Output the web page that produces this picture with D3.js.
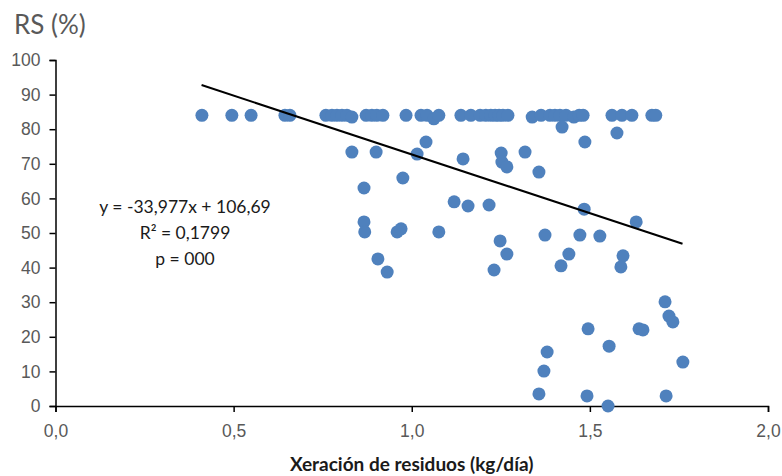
<!DOCTYPE html>
<html>
<head>
<meta charset="utf-8">
<script src="https://cdn.jsdelivr.net/npm/d3@7"></script>
<style>
  body { margin: 0; background: #fff; }
  svg { display: block; font-family: Lato, "Open Sans", sans-serif; }
</style>
</head>
<body>
<script>
// waste generation (kg/day) vs RS (%)
var xs = [0.411, 0.495, 0.549, 0.644, 0.658, 0.759, 0.776, 0.790, 0.804, 0.818, 0.832, 0.872, 0.888, 0.902, 0.919,
          0.984, 1.026, 1.043, 1.062, 1.076, 1.138, 1.166, 1.192, 1.208, 1.222, 1.234, 1.245, 1.256, 1.270,
          1.338, 1.363, 1.388, 1.402, 1.416, 1.433, 1.455, 1.470, 1.481, 1.562, 1.590, 1.618, 1.674, 1.685,
          0.832, 0.900, 1.015, 1.040, 1.144, 1.251, 1.253, 1.267, 1.318, 1.357, 1.486, 1.422, 1.576,
          0.866, 0.975, 1.119, 1.158, 1.217, 1.484, 0.866, 0.868, 0.959, 0.970, 1.076, 1.374, 1.472, 1.528, 1.630,
          1.248, 1.267, 1.441, 1.593, 1.587, 1.419, 1.231, 0.905, 0.931,
          1.711, 1.722, 1.733, 1.495, 1.638, 1.649, 1.554, 1.380, 1.371, 1.761, 1.357, 1.492, 1.714, 1.551];
var ys = [84, 84, 84, 84, 84, 84, 84, 84, 84, 84, 83.5, 84, 84, 84, 84,
          84, 84, 84, 83, 84, 84, 84, 84, 84, 84, 84, 84, 84, 84,
          83.5, 84, 84, 84, 84, 84, 83.5, 84, 84, 84, 84, 84, 84, 84,
          73.4, 73.4, 72.8, 76.3, 71.4, 73.1, 70.5, 69.1, 73.4, 67.6, 76.3, 80.6, 78.9,
          63.0, 65.9, 59.0, 57.8, 58.1, 56.9, 53.2, 50.3, 50.3, 51.2, 50.3, 49.4, 49.4, 49.1, 53.2,
          47.7, 43.9, 43.9, 43.4, 40.2, 40.5, 39.3, 42.5, 38.7,
          30.1, 26.0, 24.3, 22.3, 22.3, 22.0, 17.3, 15.6, 10.1, 12.7, 3.5, 2.9, 2.9, 0];

var xTicks = [0, 0.5, 1, 1.5, 2];
var yTicks = [0, 10, 20, 30, 40, 50, 60, 70, 80, 90, 100];

// linear trend
var slope = -33.977, intercept = 106.69;
var trendX = [0.41, 1.76];
var labels = ["y = -33,977x + 106,69", "R\u00b2 = 0,1799", "p = 000"];

var width = 782, height = 476;
var margin = {top: 60, right: 14, bottom: 70, left: 55.5};

var x = d3.scaleLinear().domain([0, 2]).range([margin.left, width - margin.right]);
var y = d3.scaleLinear().domain([0, 100]).range([height - margin.bottom, margin.top]);

var svg = d3.select("body").append("svg")
    .attr("width", width)
    .attr("height", height);

var fmt = function(d) { return d3.format(".1f")(d).replace(".", ","); };

// x axis
var gx = svg.append("g")
    .attr("transform", "translate(0," + y(0) + ")")
    .call(d3.axisBottom(x).tickValues(xTicks).tickFormat(fmt).tickSize(6).tickPadding(13));
gx.select(".domain").attr("stroke", "#000").attr("stroke-width", 1.5);
gx.selectAll(".tick line").attr("stroke", "#000").attr("stroke-width", 1.5);
gx.selectAll("text").attr("fill", "#595959").style("font-size", "17.5px");

// y axis
var gy = svg.append("g")
    .attr("transform", "translate(" + x(0) + ",0)")
    .call(d3.axisLeft(y).tickValues(yTicks).tickSize(6).tickPadding(9));
gy.select(".domain").attr("stroke", "#000").attr("stroke-width", 1.5);
gy.selectAll(".tick line").attr("stroke", "#000").attr("stroke-width", 1.5);
gy.selectAll("text").attr("fill", "#595959").style("font-size", "17.5px");

// points
svg.selectAll(".dot")
    .data(xs.map(function(d, i) { return [d, ys[i]]; }))
  .enter().append("circle")
    .attr("class", "dot")
    .attr("r", 6.5)
    .attr("cx", function(d) { return x(d[0]); })
    .attr("cy", function(d) { return y(d[1]); })
    .attr("fill", "#4f81bd");

// trend line
svg.append("line")
    .attr("x1", x(trendX[0]))
    .attr("y1", y(slope * trendX[0] + intercept))
    .attr("x2", x(trendX[1]))
    .attr("y2", y(slope * trendX[1] + intercept))
    .attr("stroke", "#000")
    .attr("stroke-width", 2);

// equation
svg.selectAll(".eq")
    .data(labels)
  .enter().append("text")
    .attr("class", "eq")
    .attr("x", 185)
    .attr("y", function(d, i) { return 213 + i * 26; })
    .attr("text-anchor", "middle")
    .attr("fill", "#1a1a1a")
    .style("font-size", "17.5px")
    .text(function(d) { return d; });

// titles
svg.append("text")
    .attr("x", 14)
    .attr("y", 34)
    .attr("fill", "#595959")
    .style("font-size", "26px")
    .text("RS (%)");

svg.append("text")
    .attr("x", (x(0) + x(2)) / 2)
    .attr("y", 471)
    .attr("text-anchor", "middle")
    .attr("fill", "#1a1a1a")
    .style("font-size", "19px")
    .style("font-weight", "bold")
    .text("Xeración de residuos (kg/día)");
</script>
</body>
</html>
